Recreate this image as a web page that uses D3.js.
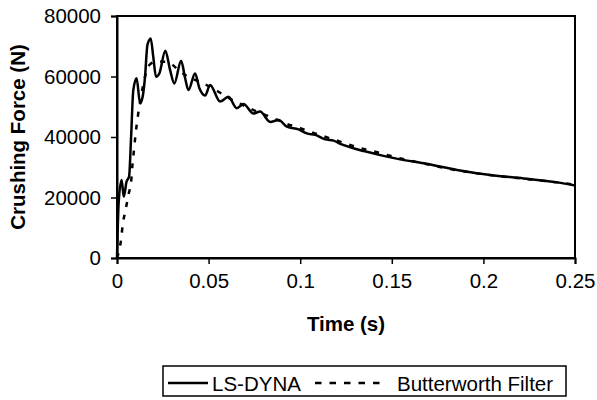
<!DOCTYPE html>
<html lang="en">
<head>
    <meta charset="UTF-8"/>
    <title>Crushing Force</title>
    <script src="https://d3js.org/d3.v7.min.js"></script>
    <style>
        body { margin: 0; background: #fff; }
        text { font-family: "Liberation Sans", Arial, sans-serif; fill: #000; }
    </style>
</head>
<body>
    <script>
        // LS-DYNA raw output (time s, force N)
        var dynaTime = [0, 0.0009, 0.0025, 0.0037, 0.0052, 0.0066, 0.0077, 0.0089, 0.0107, 0.0126,
            0.0140, 0.0153, 0.0166, 0.0184, 0.0198, 0.0213, 0.0231, 0.0264, 0.0290, 0.0313,
            0.0350, 0.0372, 0.0390, 0.0426, 0.0450, 0.0481, 0.0508, 0.0563, 0.0608, 0.0654,
            0.0690, 0.0745, 0.0781, 0.0836, 0.0882, 0.0928, 0.0991, 0.1036, 0.1082, 0.1137,
            0.1182, 0.1219, 0.1291, 0.1364, 0.1437, 0.1546, 0.1674, 0.1856, 0.2038, 0.2220,
            0.2403, 0.2500];
        var dynaForce = [0, 18200, 25800, 20300, 25200, 26900, 40100, 55500, 59400, 51100,
            53300, 59900, 70400, 72600, 66500, 59900, 61000, 68500, 62100, 57700,
            65200, 59400, 55500, 61000, 56100, 53700, 57200, 51700, 53300, 49500,
            50900, 47800, 48400, 45000, 45600, 43400, 42500, 41200, 40700, 39200,
            38800, 37700, 36300, 35100, 34000, 32600, 31300, 29100, 27400, 26300,
            25000, 24000];

        // Butterworth filtered curve
        var filtTime = [0, 0.0022, 0.0031, 0.0047, 0.0062, 0.0078, 0.0085, 0.0093, 0.0102, 0.0113,
            0.0130, 0.0153, 0.0180, 0.0220, 0.0270, 0.0300, 0.0344, 0.0408, 0.0472, 0.0545,
            0.0600, 0.0672, 0.0763, 0.0836, 0.0918, 0.1000, 0.1080, 0.1237, 0.1328, 0.1410,
            0.1490, 0.1674, 0.1856, 0.2038, 0.2220, 0.2403, 0.2500];
        var filtForce = [0, 6000, 10900, 15900, 20800, 25800, 31300, 35900, 41200, 46500,
            53000, 60000, 64000, 65000, 64800, 64000, 61600, 59400, 57700, 55300,
            53200, 51000, 48400, 46700, 44500, 42900, 41200, 38100, 36300, 35100,
            33800, 31200, 29000, 27400, 26200, 25000, 24200];

        var xTicks = [0, 0.05, 0.1, 0.15, 0.2, 0.25];
        var yTicks = [0, 20000, 40000, 60000, 80000];
        var seriesNames = ["LS-DYNA", "Butterworth Filter"];

        var w = 597, h = 400;
        var pLeft = 117, pRight = 575, pTop = 16, pBottom = 258;
        var fs = "20.5px";

        var svg = d3.select("body").append("svg")
            .attr("width", w)
            .attr("height", h);

        var x = d3.scaleLinear().domain([0, 0.25]).range([pLeft, pRight]);
        var y = d3.scaleLinear().domain([0, 80000]).range([pBottom, pTop]);

        // plot frame
        svg.append("rect")
            .attr("x", pLeft).attr("y", pTop)
            .attr("width", pRight - pLeft).attr("height", pBottom - pTop)
            .attr("fill", "none").attr("stroke", "#000").attr("stroke-width", 2);

        var xAxis = svg.append("g")
            .attr("transform", "translate(0," + pBottom + ")")
            .call(d3.axisBottom(x).tickValues(xTicks).tickSize(6).tickPadding(8)
                .tickFormat(function(d) { return String(d); }));
        var yAxis = svg.append("g")
            .attr("transform", "translate(" + pLeft + ",0)")
            .call(d3.axisLeft(y).tickValues(yTicks).tickSize(6).tickPadding(10)
                .tickFormat(function(d) { return String(d); }));

        [xAxis, yAxis].forEach(function(a) {
            a.select(".domain").attr("stroke", "#000").attr("stroke-width", 2);
            a.selectAll(".tick line").attr("stroke", "#000").attr("stroke-width", 1.5);
            a.selectAll(".tick text").style("font-size", fs).attr("fill", "#000")
                .style("font-family", "'Liberation Sans', Arial, sans-serif");
        });
        xAxis.selectAll(".tick text").attr("dy", "0.8em");

        var line = d3.line()
            .x(function(d) { return x(d[0]); })
            .y(function(d) { return y(d[1]); })
            .curve(d3.curveMonotoneX);

        var filtData = d3.zip(filtTime, filtForce);
        var dynaData = d3.zip(dynaTime, dynaForce);

        svg.append("path")
            .datum(filtData)
            .attr("d", line)
            .attr("fill", "none")
            .attr("stroke", "#000")
            .attr("stroke-width", 2.5)
            .attr("stroke-dasharray", "5,8");

        svg.append("path")
            .datum(dynaData)
            .attr("d", line)
            .attr("fill", "none")
            .attr("stroke", "#000")
            .attr("stroke-width", 2.5)
            .attr("stroke-linejoin", "round");

        // axis titles
        svg.append("text")
            .attr("x", (pLeft + pRight) / 2)
            .attr("y", 331)
            .attr("text-anchor", "middle")
            .style("font-size", fs)
            .style("font-weight", "bold")
            .text("Time (s)");

        svg.append("text")
            .attr("transform", "translate(25," + ((pTop + pBottom) / 2) + ") rotate(-90)")
            .attr("text-anchor", "middle")
            .style("font-size", fs)
            .style("font-weight", "bold")
            .text("Crushing Force (N)");

        // legend
        var legend = svg.append("g");
        legend.append("rect")
            .attr("x", 163).attr("y", 366)
            .attr("width", 403).attr("height", 30)
            .attr("fill", "#fff").attr("stroke", "#000").attr("stroke-width", 1.5);
        legend.append("line")
            .attr("x1", 168).attr("x2", 208).attr("y1", 383).attr("y2", 383)
            .attr("stroke", "#000").attr("stroke-width", 2.5);
        legend.append("text")
            .attr("x", 212).attr("y", 391)
            .style("font-size", fs)
            .text(seriesNames[0]);
        legend.append("line")
            .attr("x1", 315).attr("x2", 383).attr("y1", 383).attr("y2", 383)
            .attr("stroke", "#000").attr("stroke-width", 2.5)
            .attr("stroke-dasharray", "6.5,8");
        legend.append("text")
            .attr("x", 397).attr("y", 391)
            .style("font-size", fs)
            .text(seriesNames[1]);
    </script>
</body>
</html>
